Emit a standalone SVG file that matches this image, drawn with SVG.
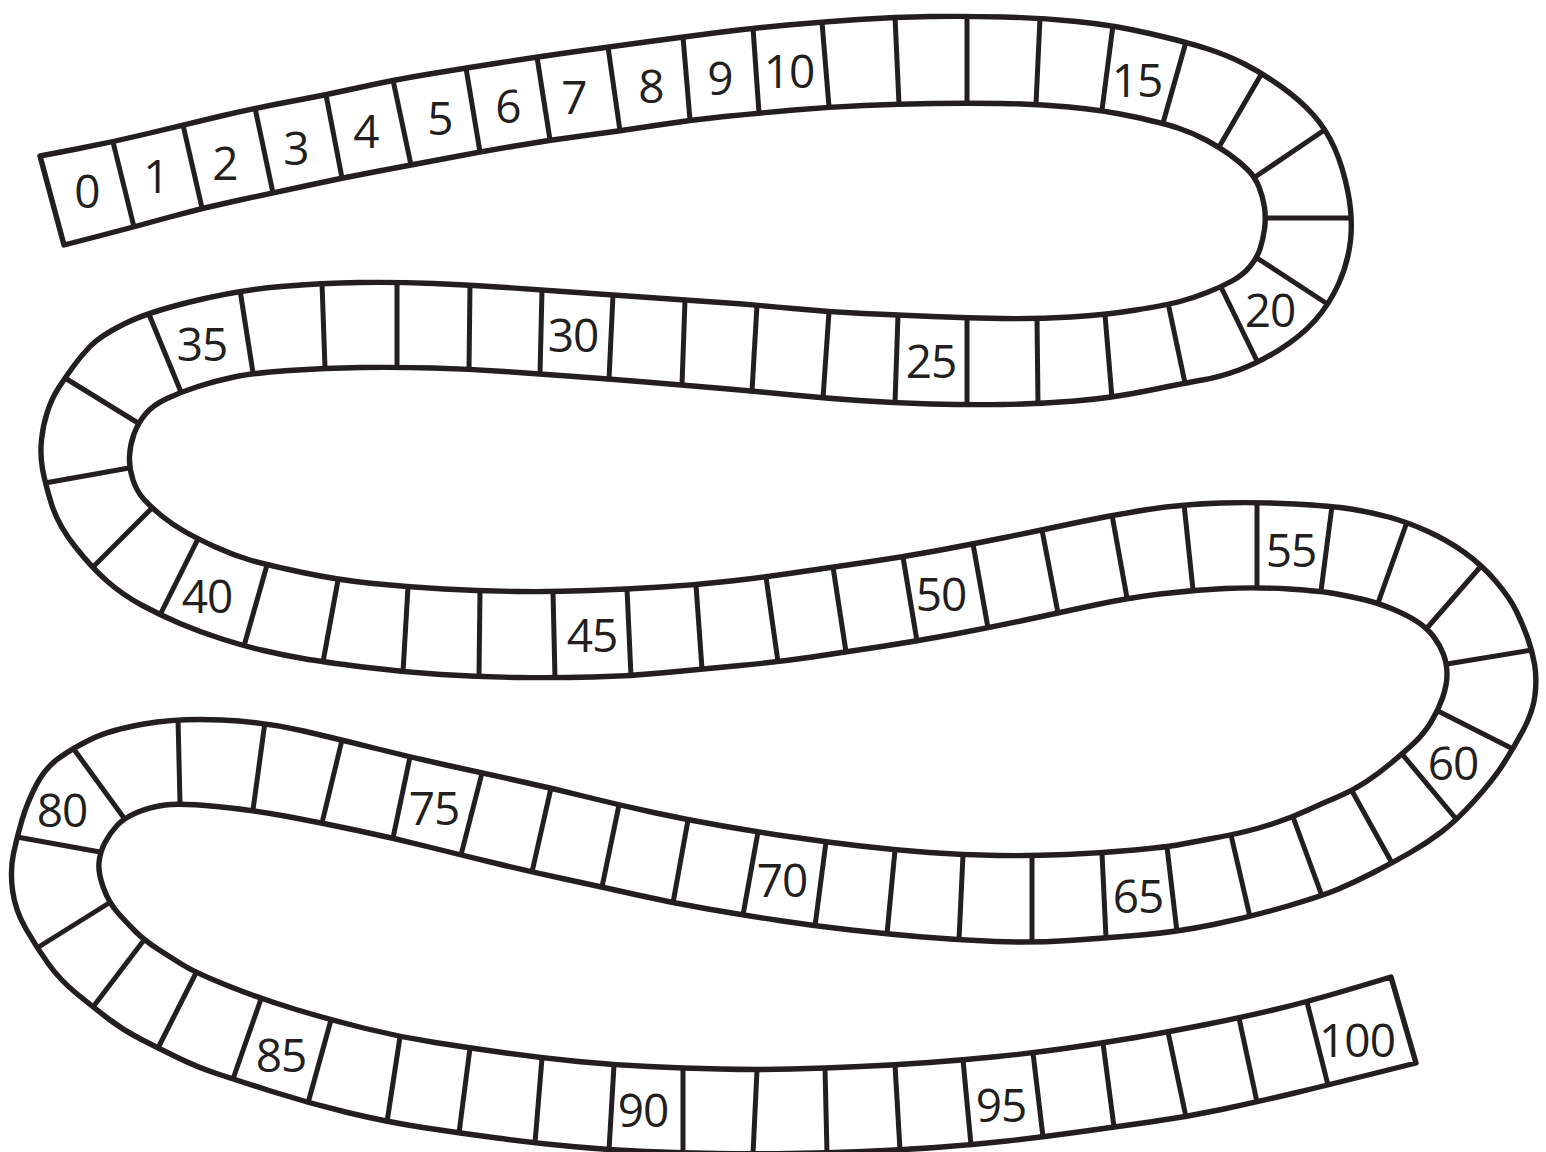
<svg xmlns="http://www.w3.org/2000/svg" xmlns:xlink="http://www.w3.org/1999/xlink" width="1546" height="1152" viewBox="0 0 1546 1152">
<style>
.edge{fill:none;stroke:#231f20;stroke-width:5.4;stroke-linejoin:round}
.div line{stroke:#231f20;stroke-width:5;marker-start:url(#ext);marker-end:url(#ext)}
.lbl{font-family:"Open Sans","Liberation Sans",sans-serif;font-size:46px;fill:#231f20;text-anchor:middle;letter-spacing:-1px}
</style>
<defs>
<marker id="ext" markerUnits="userSpaceOnUse" viewBox="-12 -12 24 24" markerWidth="24" markerHeight="24" refX="0" refY="0" orient="auto-start-reverse" overflow="visible">
<path d="M0,0 H12" stroke="#231f20" stroke-width="5"/>
</marker>
<path id="band" d="M40,156 L76.5,149 Q113,142 148,133.5 Q183,125 219,116.5 Q255,108 290.5,101.5 Q326,95 359.5,87.5 Q393,80 429.5,74 Q466,68 501.5,62.5 Q537,57 572.5,52 Q608,47 645.5,42 Q683,37 718,32.5 Q753,28 787.5,25 Q822,22 858.5,19.5 Q895,17 931,16.5 Q967,16 1003.5,17 Q1040,18 1076.5,21.5 Q1113,25 1149.5,33.5 Q1186,42 1206.5,48.5 Q1227,55 1244.5,64 Q1262,73 1281,86.5 Q1300,100 1313,114.5 Q1326,129 1334.5,148 Q1343,167 1348,192.5 Q1353,218 1350.5,240.5 Q1348,263 1338.5,284 Q1329,305 1314.5,321 Q1300,337 1279,350 Q1258,363 1239,370 Q1220,377 1202.5,380 Q1185,383 1148.5,390.5 Q1112,398 1075,401 Q1038,404 1002.5,404.5 Q967,405 931,404 Q895,403 859,400.5 Q823,398 787.5,394.5 Q752,391 717,388 Q682,385 645.5,382 Q609,379 574.5,376.5 Q540,374 504.5,371.5 Q469,369 433,368 Q397,367 361,367.5 Q325,368 289,370.5 Q253,373 234,377 Q215,381 198,386.5 Q181,392 167,398.5 Q153,405 145.5,414 Q138,423 134,434 Q130,445 129.5,456.5 Q129,468 133,480 Q137,492 144.5,500 Q152,508 162.5,516.5 Q173,525 185.5,532 Q198,539 215.5,547 Q233,555 250,560 Q267,565 302.5,572.5 Q338,580 373,583.5 Q408,587 444,589 Q480,591 516.5,591.5 Q553,592 590,590.5 Q627,589 661.5,587 Q696,585 731,581 Q766,577 799.5,572 Q833,567 868,562 Q903,557 938,550.5 Q973,544 1007.5,537 Q1042,530 1077,522.5 Q1112,515 1148,509.5 Q1184,504 1220.5,503 Q1257,502 1294.5,504 Q1332,506 1351,509 Q1370,512 1388.5,517 Q1407,522 1427,531 Q1447,540 1464.5,552.5 Q1482,565 1496,581.5 Q1510,598 1516.5,611.5 Q1523,625 1527.5,637.5 Q1532,650 1534.5,664 Q1537,678 1535,695 Q1533,712 1523,730.5 Q1513,749 1503,764.5 Q1493,780 1475,800 Q1457,820 1442,831.5 Q1427,843 1409.5,853 Q1392,863 1373.5,872.5 Q1355,882 1338.5,889 Q1322,896 1286,906.5 Q1250,917 1213.5,924.5 Q1177,932 1141.5,935 Q1106,938 1069,940.5 Q1032,943 995.5,941.5 Q959,940 923,937 Q887,934 851,930 Q815,926 779,920.5 Q743,915 708,909 Q673,903 637.5,895 Q602,887 567,879.5 Q532,872 496.5,863.5 Q461,855 427,846.5 Q393,838 357.5,830.5 Q322,823 287.5,816.5 Q253,810 216.5,806.5 Q180,803 165,805 Q150,807 137,812.5 Q124,818 117,825.5 Q110,833 105,842.5 Q100,852 99,862.5 Q98,873 103.5,888 Q109,903 118,913 Q127,923 135.5,931.5 Q144,940 157,948.5 Q170,957 183,965 Q196,973 228.5,986 Q261,999 296,1009.5 Q331,1020 365.5,1028.5 Q400,1037 435,1042.5 Q470,1048 506,1053 Q542,1058 578,1061.5 Q614,1065 648.5,1066.5 Q683,1068 720,1069 Q757,1070 791,1069 Q825,1068 860,1066.5 Q895,1065 929,1062.5 Q963,1060 998,1056.5 Q1033,1053 1068,1048 Q1103,1043 1135.5,1037.5 Q1168,1032 1203.5,1025 Q1239,1018 1273,1010 Q1307,1002 1349,989.5 L1391,977 L1416,1063 L1372,1074 Q1328,1085 1292.5,1093.5 Q1257,1102 1221.5,1109.5 Q1186,1117 1150,1122 Q1114,1127 1078.5,1132 Q1043,1137 1007,1141 Q971,1145 935.5,1147.5 Q900,1150 863.5,1151.5 Q827,1153 790,1153.5 Q753,1154 718,1153.5 Q683,1153 646,1151.5 Q609,1150 572,1146.5 Q535,1143 497,1138 Q459,1133 423,1127.5 Q387,1122 347.5,1112.5 Q308,1103 270.5,1091 Q233,1079 215,1073 Q197,1067 177.5,1057.5 Q158,1048 140.5,1039 Q123,1030 108,1018.5 Q93,1007 76.5,993.5 Q60,980 48.5,964 Q37,948 26,929 Q15,910 12.5,890 Q10,870 13.5,853.5 Q17,837 22,820 Q27,803 36,785.5 Q45,768 59,758 Q73,748 91.5,739 Q110,730 144,724 Q178,718 221.5,720 Q265,722 303.5,731 Q342,740 376,748.5 Q410,757 446,765 Q482,773 516.5,780.5 Q551,788 585,796.5 Q619,805 653.5,812.5 Q688,820 723,826 Q758,832 792,837 Q826,842 860.5,846 Q895,850 929,852.5 Q963,855 997.5,855.5 Q1032,856 1067,854.5 Q1102,853 1134.5,850 Q1167,847 1180,844.5 Q1193,842 1212,838.5 Q1231,835 1245.5,831.5 Q1260,828 1276.5,822.5 Q1293,817 1308,810 Q1323,803 1337.5,797 Q1352,791 1365,782.5 Q1378,774 1390,764 Q1402,754 1412.5,744.5 Q1423,735 1430.5,723 Q1438,711 1442.5,698 Q1447,685 1447,674.5 Q1447,664 1443.5,654.5 Q1440,645 1433.5,636.5 Q1427,628 1417,621.5 Q1407,615 1392.5,609 Q1378,603 1365.5,600 Q1353,597 1337,594 Q1321,591 1289,589 Q1257,587 1225,588.5 Q1193,590 1160,594 Q1127,598 1092.5,605.5 Q1058,613 1023,620.5 Q988,628 952.5,634.5 Q917,641 881.5,646.5 Q846,652 812,657 Q778,662 740,665.5 Q702,669 666.5,672.5 Q631,676 593,677 Q555,678 517,677.5 Q479,677 441,674.5 Q403,672 363,667 Q323,662 303,658.5 Q283,655 263.5,650.5 Q244,646 222,639 Q200,632 180,623.5 Q160,615 141.5,605 Q123,595 107.5,581.5 Q92,568 75,546.5 Q58,525 51.5,504 Q45,483 42.5,469 Q40,455 41.5,440 Q43,425 47.5,411.5 Q52,398 58.5,388 Q65,378 72.5,367.5 Q80,357 90,346.5 Q100,336 124,324 Q148,312 194,301 Q240,290 281,286.5 Q322,283 359.5,282.5 Q397,282 433.5,283.5 Q470,285 506,287.5 Q542,290 577.5,292.5 Q613,295 649,297.5 Q685,300 721,302.5 Q757,305 793,308.5 Q829,312 863.5,313.5 Q898,315 932.5,316.5 Q967,318 1002,318.5 Q1037,319 1071,317 Q1105,315 1136,310 Q1167,305 1180,301.5 Q1193,298 1207,292.5 Q1221,287 1232,281 Q1243,275 1250,266.5 Q1257,258 1260,249 Q1263,240 1264.5,229 Q1266,218 1264.5,207.5 Q1263,197 1259,187 Q1255,177 1247.5,169.5 Q1240,162 1229.5,154.5 Q1219,147 1206,140 Q1193,133 1178,128 Q1163,123 1132.5,116.5 Q1102,110 1069,107 Q1036,104 1001.5,103.5 Q967,103 933,103.5 Q899,104 864,105.5 Q829,107 794,110 Q759,113 724.5,116.5 Q690,120 655,125.5 Q620,131 585,135.5 Q550,140 515,146 Q480,152 445.5,158.5 Q411,165 376.5,171.5 Q342,178 307.5,185.5 Q273,193 237.5,200.5 Q202,208 168,217.5 Q134,227 99,236 L64,245 Z"/>
<clipPath id="bandClip"><use href="#band" xlink:href="#band"/></clipPath>
</defs>
<rect width="1546" height="1152" fill="#ffffff"/>
<g id="track">
<use href="#band" xlink:href="#band" fill="#ffffff"/>
<g id="cell-dividers" class="div" clip-path="url(#bandClip)">
<line x1="113" y1="142" x2="134" y2="227"/>
<line x1="183" y1="125" x2="202" y2="208"/>
<line x1="255" y1="108" x2="273" y2="193"/>
<line x1="326" y1="95" x2="342" y2="178"/>
<line x1="393" y1="80" x2="411" y2="165"/>
<line x1="466" y1="68" x2="480" y2="152"/>
<line x1="537" y1="57" x2="550" y2="140"/>
<line x1="608" y1="47" x2="620" y2="131"/>
<line x1="683" y1="37" x2="690" y2="120"/>
<line x1="753" y1="28" x2="759" y2="113"/>
<line x1="822" y1="22" x2="829" y2="107"/>
<line x1="895" y1="17" x2="899" y2="104"/>
<line x1="967" y1="16" x2="967" y2="103"/>
<line x1="1040" y1="18" x2="1036" y2="104"/>
<line x1="1113" y1="25" x2="1102" y2="110"/>
<line x1="1186" y1="42" x2="1163" y2="123"/>
<line x1="1262" y1="73" x2="1219" y2="147"/>
<line x1="1326" y1="129" x2="1255" y2="177"/>
<line x1="1353" y1="218" x2="1266" y2="218"/>
<line x1="1329" y1="305" x2="1257" y2="258"/>
<line x1="1258" y1="363" x2="1221" y2="287"/>
<line x1="1185" y1="383" x2="1168" y2="303"/>
<line x1="1112" y1="398" x2="1105" y2="315"/>
<line x1="1038" y1="404" x2="1037" y2="319"/>
<line x1="967" y1="405" x2="967" y2="318"/>
<line x1="895" y1="403" x2="898" y2="315"/>
<line x1="823" y1="398" x2="829" y2="312"/>
<line x1="752" y1="391" x2="757" y2="305"/>
<line x1="682" y1="385" x2="685" y2="300"/>
<line x1="609" y1="379" x2="613" y2="295"/>
<line x1="540" y1="374" x2="542" y2="290"/>
<line x1="469" y1="369" x2="470" y2="285"/>
<line x1="397" y1="367" x2="397" y2="282"/>
<line x1="325" y1="368" x2="322" y2="283"/>
<line x1="253" y1="373" x2="240" y2="290"/>
<line x1="181" y1="392" x2="148" y2="312"/>
<line x1="138" y1="423" x2="65" y2="378"/>
<line x1="129" y1="468" x2="45" y2="483"/>
<line x1="152" y1="508" x2="92" y2="568"/>
<line x1="198" y1="539" x2="160" y2="615"/>
<line x1="267" y1="565" x2="244" y2="646"/>
<line x1="338" y1="580" x2="323" y2="662"/>
<line x1="408" y1="587" x2="403" y2="672"/>
<line x1="480" y1="591" x2="479" y2="677"/>
<line x1="553" y1="592" x2="555" y2="678"/>
<line x1="627" y1="589" x2="631" y2="676"/>
<line x1="696" y1="585" x2="702" y2="669"/>
<line x1="766" y1="577" x2="778" y2="662"/>
<line x1="833" y1="567" x2="846" y2="652"/>
<line x1="903" y1="557" x2="917" y2="641"/>
<line x1="973" y1="544" x2="988" y2="628"/>
<line x1="1042" y1="530" x2="1058" y2="613"/>
<line x1="1112" y1="515" x2="1127" y2="598"/>
<line x1="1184" y1="504" x2="1193" y2="590"/>
<line x1="1257" y1="502" x2="1257" y2="587"/>
<line x1="1332" y1="506" x2="1321" y2="591"/>
<line x1="1407" y1="522" x2="1378" y2="603"/>
<line x1="1482" y1="565" x2="1427" y2="628"/>
<line x1="1532" y1="650" x2="1447" y2="664"/>
<line x1="1513" y1="749" x2="1438" y2="711"/>
<line x1="1457" y1="820" x2="1402" y2="754"/>
<line x1="1392" y1="863" x2="1352" y2="791"/>
<line x1="1322" y1="896" x2="1293" y2="817"/>
<line x1="1250" y1="917" x2="1231" y2="835"/>
<line x1="1177" y1="932" x2="1167" y2="847"/>
<line x1="1106" y1="938" x2="1102" y2="853"/>
<line x1="1032" y1="943" x2="1032" y2="856"/>
<line x1="959" y1="940" x2="963" y2="855"/>
<line x1="887" y1="934" x2="895" y2="850"/>
<line x1="815" y1="926" x2="826" y2="842"/>
<line x1="743" y1="915" x2="758" y2="832"/>
<line x1="673" y1="903" x2="688" y2="820"/>
<line x1="602" y1="887" x2="619" y2="805"/>
<line x1="532" y1="872" x2="551" y2="788"/>
<line x1="461" y1="855" x2="482" y2="773"/>
<line x1="393" y1="838" x2="410" y2="757"/>
<line x1="322" y1="823" x2="342" y2="740"/>
<line x1="253" y1="810" x2="265" y2="722"/>
<line x1="180" y1="803" x2="178" y2="718"/>
<line x1="124" y1="818" x2="73" y2="748"/>
<line x1="100" y1="852" x2="17" y2="837"/>
<line x1="109" y1="903" x2="37" y2="948"/>
<line x1="144" y1="940" x2="93" y2="1007"/>
<line x1="196" y1="973" x2="158" y2="1048"/>
<line x1="261" y1="999" x2="233" y2="1079"/>
<line x1="331" y1="1020" x2="308" y2="1103"/>
<line x1="400" y1="1037" x2="387" y2="1122"/>
<line x1="470" y1="1048" x2="459" y2="1133"/>
<line x1="542" y1="1058" x2="535" y2="1143"/>
<line x1="614" y1="1065" x2="609" y2="1150"/>
<line x1="683" y1="1068" x2="683" y2="1153"/>
<line x1="757" y1="1070" x2="753" y2="1154"/>
<line x1="825" y1="1068" x2="827" y2="1153"/>
<line x1="895" y1="1065" x2="900" y2="1150"/>
<line x1="963" y1="1060" x2="971" y2="1145"/>
<line x1="1033" y1="1053" x2="1043" y2="1137"/>
<line x1="1103" y1="1043" x2="1114" y2="1127"/>
<line x1="1168" y1="1032" x2="1186" y2="1117"/>
<line x1="1239" y1="1018" x2="1257" y2="1102"/>
<line x1="1307" y1="1002" x2="1328" y2="1085"/>
</g>
<use id="track-outline" href="#band" xlink:href="#band" class="edge"/>
</g>
<g id="labels" class="lbl">
<text x="87" y="208">0</text>
<text x="156" y="193">1</text>
<text x="225" y="180">2</text>
<text x="296" y="165">3</text>
<text x="366" y="148">4</text>
<text x="440" y="135">5</text>
<text x="508" y="123">6</text>
<text x="574" y="114">7</text>
<text x="651" y="103">8</text>
<text x="720" y="95">9</text>
<text x="789" y="88">10</text>
<text x="1137" y="97">15</text>
<text x="1270" y="327">20</text>
<text x="931" y="378">25</text>
<text x="573" y="352">30</text>
<text x="202" y="361">35</text>
<text x="207" y="613">40</text>
<text x="592" y="652">45</text>
<text x="941" y="611">50</text>
<text x="1291" y="567">55</text>
<text x="1453" y="780">60</text>
<text x="1138" y="913">65</text>
<text x="782" y="897">70</text>
<text x="434" y="825">75</text>
<text x="62" y="827">80</text>
<text x="281" y="1072">85</text>
<text x="643" y="1127">90</text>
<text x="1001" y="1122">95</text>
<text x="1357" y="1057">100</text>
</g>
</svg>
